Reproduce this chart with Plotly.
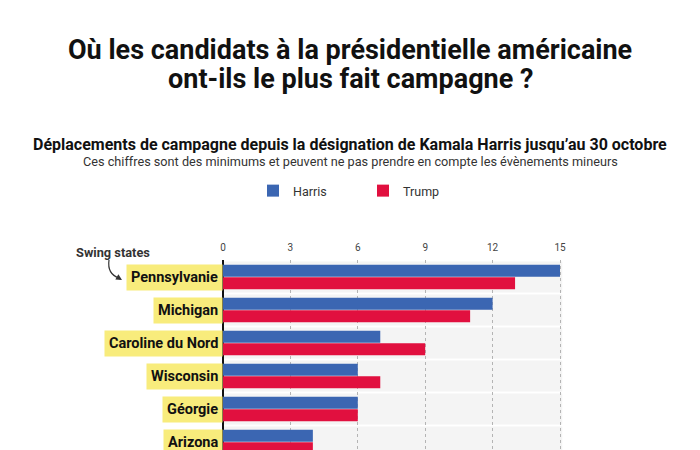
import plotly.graph_objects as go

states = ["Pennsylvanie", "Michigan", "Caroline du Nord", "Wisconsin", "Géorgie", "Arizona"]
harris = [15, 12, 7, 6, 6, 4]
trump = [13, 11, 9, 7, 6, 4]
tick_vals = [0, 3, 6, 9, 12, 15]

OFF = 8  # page body margin
W, H = 692, 442
L, R, T, B = 212, 127, 252, 0
PW, PH = W - L - R, H - T - B


def px(x):
    """page x pixel -> paper coordinate"""
    return (x - OFF - L) / PW


def py(y):
    """page y pixel -> paper coordinate"""
    return (H - B - (y - OFF)) / PH


HARRIS_C = "#3b66b2"
TRUMP_C = "#e1103f"
FONT = "Roboto"

fig = go.Figure()
fig.add_trace(go.Bar(y=states, x=harris, orientation="h", name="Harris",
                     marker=dict(color=HARRIS_C, line=dict(width=0))))
fig.add_trace(go.Bar(y=states, x=trump, orientation="h", name="Trump",
                     marker=dict(color=TRUMP_C, line=dict(width=0))))

shapes = []
for i, s in enumerate(states):
    shapes.append(dict(type="rect", xref="x", yref="y", x0=0, x1=15.1,
                       y0=i - 0.47, y1=i + 0.47, fillcolor="#f4f4f4",
                       line=dict(width=0), layer="below"))

# curved arrow for "Swing states"
shapes.append(dict(type="path", xref="paper", yref="paper",
                   path=f"M {px(109)},{py(260)} Q {px(107)},{py(274)} {px(119)},{py(278)}",
                   line=dict(color="#333333", width=1.2)))

annotations = []
for s in states:
    annotations.append(dict(xref="paper", yref="y", x=px(223), y=s, text=f"<b>{s}</b>",
                            xanchor="right", yanchor="middle", showarrow=False,
                            font=dict(family=FONT, size=14.5, color="#111111"),
                            bgcolor="#f8ec7c", borderpad=4))

annotations += [
    dict(xref="paper", yref="paper", x=px(350), y=py(50),
         text="<b>Où les candidats à la présidentielle américaine</b>",
         showarrow=False, xanchor="center", yanchor="middle",
         font=dict(family=FONT, size=27, color="#111111")),
    dict(xref="paper", yref="paper", x=px(350), y=py(79),
         text="<b>ont-ils le plus fait campagne ?</b>",
         showarrow=False, xanchor="center", yanchor="middle",
         font=dict(family=FONT, size=27, color="#111111")),
    dict(xref="paper", yref="paper", x=px(350), y=py(144),
         text="<b>Déplacements de campagne depuis la désignation de Kamala Harris jusqu’au 30 octobre</b>",
         showarrow=False, xanchor="center", yanchor="middle",
         font=dict(family=FONT, size=16, color="#111111")),
    dict(xref="paper", yref="paper", x=px(350), y=py(161),
         text="Ces chiffres sont des minimums et peuvent ne pas prendre en compte les évènements mineurs",
         showarrow=False, xanchor="center", yanchor="middle",
         font=dict(family=FONT, size=12.7, color="#333333")),
    dict(xref="paper", yref="paper", x=px(74), y=py(252),
         text="<b>Swing states</b>", showarrow=False, xanchor="left", yanchor="middle",
         font=dict(family=FONT, size=12.8, color="#333333")),
    dict(xref="paper", yref="paper", x=px(122), y=py(280), text="",
         showarrow=True, ax=-5, ay=-3, arrowhead=2, arrowsize=1, arrowwidth=1.2,
         arrowcolor="#333333"),
]

fig.update_layout(
    width=W, height=H,
    margin=dict(l=L, r=R, t=T, b=B, pad=0, autoexpand=False),
    paper_bgcolor="white", plot_bgcolor="white",
    barmode="group", bargap=0.24, bargroupgap=0.04,
    font=dict(family=FONT, color="#333333"),
    showlegend=True,
    legend=dict(orientation="h", x=px(253), y=py(191), xanchor="left", yanchor="middle",
                font=dict(family=FONT, size=12.5, color="#333333"),
                entrywidth=65, entrywidthmode="pixels", itemwidth=30,
                bgcolor="rgba(0,0,0,0)"),
    xaxis=dict(side="top", range=[-(223 - 220) / (337 / 15), 15 + (573 - 560) / (337 / 15)],
               tickvals=tick_vals, ticktext=[str(v) for v in tick_vals],
               tickfont=dict(family=FONT, size=10, color="#444444"),
               showgrid=True, gridcolor="#b4b4b4", griddash="dot", gridwidth=1,
               zeroline=True, zerolinecolor="#111111", zerolinewidth=1.5,
               showline=False, ticks="", ticklabelstandoff=6, fixedrange=True),
    yaxis=dict(categoryorder="array", categoryarray=states,
               range=[(450 - 277) / 33, -0.5 - (277 - 16.5 - 260) / 33],
               showticklabels=False, showgrid=False, zeroline=False, ticks="",
               fixedrange=True),
    shapes=shapes,
    annotations=annotations,
)

fig.write_html("out.html")
